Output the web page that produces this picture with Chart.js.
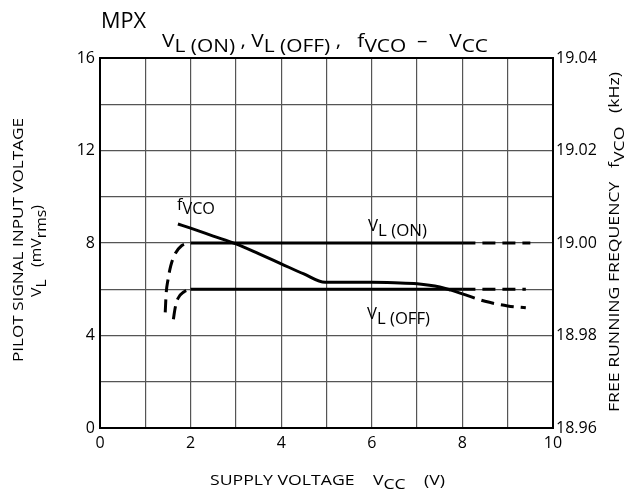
<!DOCTYPE html>
<html lang="en">
<head>
    <meta charset="UTF-8">
    <title>MPX VL(ON), VL(OFF), fVCO - VCC</title>
    <script src="https://cdn.jsdelivr.net/npm/chart.js"></script>
    <style>
        body { margin: 0; background: #fff; }
        canvas { display: block; }
    </style>
</head>
<body>
    <canvas id="grafico" width="629" height="492"></canvas>

<script>
    // valores (VCC em V, VL em mVrms, fVCO em kHz)
    var onInicioVcc = [1.44, 1.46, 1.5, 1.56, 1.65, 1.8, 2.0];
    var onInicioVl  = [5.0, 5.8, 6.4, 7.0, 7.5, 7.88, 8.0];
    var onVcc = [2.0, 8.0];
    var onVl  = [8.0, 8.0];
    var onFimVcc = [8.0, 9.5];
    var onFimVl  = [8.0, 8.0];

    var offInicioVcc = [1.62, 1.66, 1.72, 1.85, 2.0];
    var offInicioVl  = [4.7, 5.2, 5.6, 5.88, 6.0];
    var offVcc = [2.0, 8.0];
    var offVl  = [6.0, 6.0];
    var offFimVcc = [8.0, 9.4];
    var offFimVl  = [6.0, 6.0];

    var fVcc = [1.72, 2.0, 2.5, 3.0, 3.5, 4.0, 4.5, 4.97, 5.5, 6.0, 6.5, 7.0, 7.5, 7.75, 8.0];
    var fKhz = [19.0041, 19.0032, 19.0015, 18.9998, 18.9977, 18.9955, 18.9933, 18.9915,
                18.9915, 18.9915, 18.9914, 18.9912, 18.9905, 18.9898, 18.9890];
    var fFimVcc = [8.0, 8.5, 9.0, 9.4];
    var fFimKhz = [18.9890, 18.9874, 18.9864, 18.9860];

    var ticksVcc = [0, 2, 4, 6, 8, 10];
    var ticksVl = [0, 4, 8, 12, 16];
    var ticksKhz = [18.96, 18.98, 19.00, 19.02, 19.04];

    var fonte = '"Open Sans", "Noto Sans", sans-serif';

    function pontos(xs, ys) {
        var lista = [];
        for (var i = 0; i < xs.length; i++) {
            lista.push({ x: xs[i], y: ys[i] });
        }
        return lista;
    }

    function serie(nome, xs, ys, eixo, tracejado) {
        return {
            label: nome,
            data: pontos(xs, ys),
            yAxisID: eixo,
            borderColor: '#000',
            borderWidth: 3,
            borderDash: tracejado ? [13, 7] : [],
            pointRadius: 0,
            fill: false,
            cubicInterpolationMode: 'monotone'
        };
    }

    // escreve texto com partes em subscrito ([texto, sub]), esticado na horizontal
    // ate a largura pedida (a fonte do original e mais larga). girado = lendo de baixo pra cima
    function texto(ctx, partes, x, y, tam, largura, desce, girado) {
        ctx.font = tam + 'px ' + fonte;
        var total = 0;
        for (var i = 0; i < partes.length; i++) {
            total += ctx.measureText(partes[i][0]).width;
        }
        ctx.save();
        ctx.translate(x, y);
        if (girado) ctx.rotate(-Math.PI / 2);
        ctx.scale(largura ? largura / total : 1, 1);
        var px = 0;
        for (var j = 0; j < partes.length; j++) {
            ctx.fillText(partes[j][0], px, partes[j][1] ? desce : 0);
            px += ctx.measureText(partes[j][0]).width;
        }
        ctx.restore();
    }

    var textos = {
        id: 'textos',
        afterDraw: function (chart) {
            var ctx = chart.ctx;
            var area = chart.chartArea;
            ctx.save();
            // moldura
            ctx.strokeStyle = '#000';
            ctx.lineWidth = 2;
            ctx.strokeRect(area.left, area.top, area.right - area.left, area.bottom - area.top);

            ctx.fillStyle = '#000';
            ctx.textBaseline = 'alphabetic';
            ctx.textAlign = 'left';

            texto(ctx, [['MPX', 0]], 101, 28, 21, 45, 0, false);

            texto(ctx, [['V', 0], ['L (ON)', 1], [' , ', 0], ['V', 0], ['L (OFF)', 1], [' ,   ', 0],
                ['f', 0], ['VCO', 1], ['  –    ', 0], ['V', 0], ['CC', 1]], 162, 47, 19, 326, 5, false);

            // eixo esquerdo
            texto(ctx, [['PILOT SIGNAL INPUT VOLTAGE', 0]], 23, 362, 15, 244, 0, true);
            texto(ctx, [['V', 0], ['L', 1], ['   (mV', 0], ['rms', 1], [')', 0]], 41, 297, 15, 92, 5, true);

            // eixo direito
            texto(ctx, [['FREE RUNNING FREQUENCY   ', 0], ['f', 0], ['VCO', 1], ['   (kHz)', 0]],
                619, 412, 15, 340, 5, true);

            // eixo de baixo
            texto(ctx, [['SUPPLY VOLTAGE    V', 0], ['CC', 1], ['    (V)', 0]], 210, 485, 15, 235, 4, false);

            // rotulos das curvas
            texto(ctx, [['f', 0], ['VCO', 1]], 177, 210, 16, 38, 4, false);
            texto(ctx, [['V', 0], ['L (ON)', 1]], 368, 231, 17, 59, 5, false);
            texto(ctx, [['V', 0], ['L (OFF)', 1]], 367, 319, 17, 63, 5, false);
            ctx.restore();
        }
    };

    var grade = { color: '#555', lineWidth: 1.2, drawTicks: false };

    var config = {
        type: 'line',
        data: {
            datasets: [
                serie('VL(ON)', onInicioVcc, onInicioVl, 'y', true),
                serie('VL(ON)', onVcc, onVl, 'y', false),
                serie('VL(ON)', onFimVcc, onFimVl, 'y', true),
                serie('VL(OFF)', offInicioVcc, offInicioVl, 'y', true),
                serie('VL(OFF)', offVcc, offVl, 'y', false),
                serie('VL(OFF)', offFimVcc, offFimVl, 'y', true),
                serie('fVCO', fVcc, fKhz, 'y1', false),
                serie('fVCO', fFimVcc, fFimKhz, 'y1', true)
            ]
        },
        options: {
            responsive: false,
            animation: false,
            layout: { padding: { top: 58, left: 0, right: 0, bottom: 0 } },
            plugins: {
                legend: { display: false },
                tooltip: { enabled: false }
            },
            scales: {
                x: {
                    type: 'linear',
                    min: 0,
                    max: 10,
                    grid: grade,
                    border: { color: '#000', width: 2 },
                    ticks: {
                        stepSize: 1,
                        autoSkip: false,
                        maxRotation: 0,
                        padding: 6,
                        color: '#000',
                        font: { family: fonte, size: 16 },
                        callback: function (v) { return ticksVcc.indexOf(v) >= 0 ? String(v) : ''; }
                    },
                    afterFit: function (s) { s.height = 64; }
                },
                y: {
                    position: 'left',
                    min: 0,
                    max: 16,
                    grid: grade,
                    border: { color: '#000', width: 2 },
                    ticks: {
                        stepSize: 2,
                        autoSkip: false,
                        padding: 5,
                        color: '#000',
                        font: { family: fonte, size: 16 },
                        callback: function (v) { return ticksVl.indexOf(v) >= 0 ? String(v) : ''; }
                    },
                    afterFit: function (s) { s.width = 100; }
                },
                y1: {
                    position: 'right',
                    min: 18.96,
                    max: 19.04,
                    grid: { drawOnChartArea: false, drawTicks: false },
                    border: { color: '#000', width: 2 },
                    ticks: {
                        stepSize: 0.02,
                        autoSkip: false,
                        padding: 3,
                        color: '#000',
                        font: { family: fonte, size: 16 },
                        callback: function (v) {
                            for (var i = 0; i < ticksKhz.length; i++) {
                                if (Math.abs(ticksKhz[i] - v) < 0.001) return ticksKhz[i].toFixed(2);
                            }
                            return '';
                        }
                    },
                    afterFit: function (s) { s.width = 76; }
                }
            }
        },
        plugins: [textos]
    };

    var grafico = new Chart(document.getElementById('grafico'), config);
</script>
</body>
</html>
